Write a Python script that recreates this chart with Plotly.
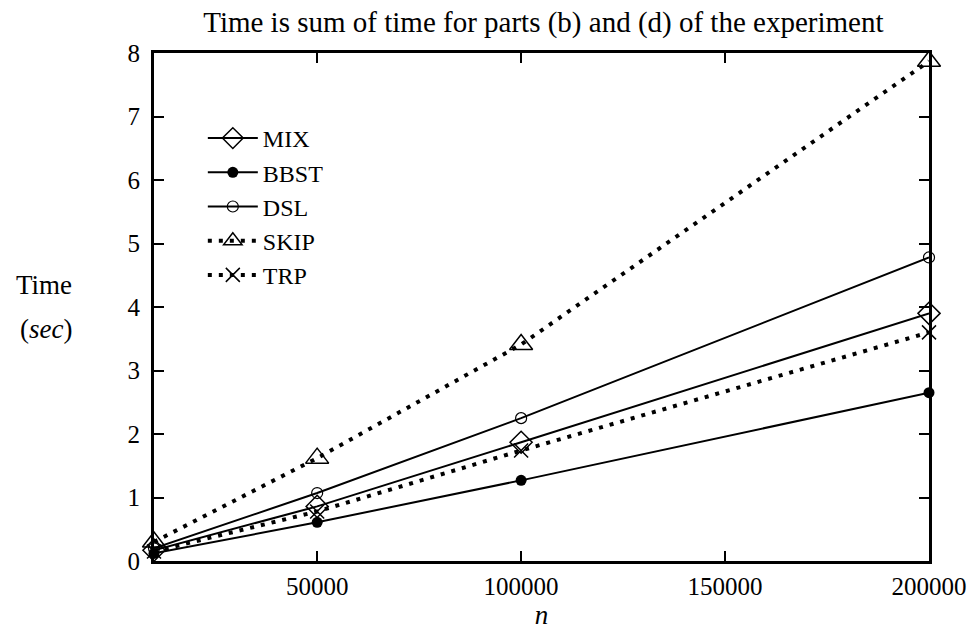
import plotly.graph_objects as go

n_values = [10000, 50000, 100000, 200000]
mix = [0.17, 0.86, 1.87, 3.90]
bbst = [0.12, 0.61, 1.27, 2.65]
dsl = [0.20, 1.07, 2.25, 4.78]
skip = [0.30, 1.62, 3.41, 7.87]
trp = [0.15, 0.78, 1.74, 3.60]

x_ticks = [50000, 100000, 150000, 200000]
y_ticks = [0, 1, 2, 3, 4, 5, 6, 7, 8]

FONT = "Liberation Serif"
series = [
    ("MIX", mix, dict(symbol="diamond-open", size=17, color="black", line=dict(width=1.5)), None),
    ("BBST", bbst, dict(symbol="circle", size=11, color="black"), None),
    ("DSL", dsl, dict(symbol="circle-open", size=11, color="black", line=dict(width=1.2)), None),
    ("SKIP", skip, dict(symbol="triangle-up-open", size=20, color="black", line=dict(width=1.5)), "4px,7px"),
    ("TRP", trp, dict(symbol="x-thin-open", size=14, color="black", line=dict(width=1.5)), "4px,7px"),
]

fig = go.Figure()
for name, vals, marker, dash in series:
    line = dict(color="black", width=2)
    if dash:
        line = dict(color="black", width=4, dash=dash)
    fig.add_trace(go.Scatter(x=n_values, y=vals, name=name, mode="lines+markers",
                             line=line, marker=marker, cliponaxis=False))

axis_common = dict(showline=True, linecolor="black", linewidth=3, mirror="ticks",
                   ticks="inside", ticklen=10, tickwidth=2, tickcolor="black",
                   showgrid=False, zeroline=False,
                   tickfont=dict(family=FONT, size=25, color="black"))

fig.update_layout(
    width=979, height=631,
    margin=dict(l=154, r=46, t=53, b=69),
    paper_bgcolor="white", plot_bgcolor="white",
    font=dict(family=FONT, size=25, color="black"),
    title=dict(text="Time is sum of time for parts (b) and (d) of the experiment",
               x=0.555, xanchor="center", y=1 - 22 / 631, yanchor="middle",
               font=dict(family=FONT, size=29, color="black")),
    xaxis=dict(range=[10000, 200000], tickvals=x_ticks, ticktext=[str(v) for v in x_ticks],
               ticklabelstandoff=1,
               title=dict(text="<i>n</i>", standoff=0, font=dict(family=FONT, size=27)),
               **axis_common),
    yaxis=dict(range=[0, 8], tickvals=y_ticks, ticklabelstandoff=6, **axis_common),
    legend=dict(x=0.063, y=0.876, xanchor="left", yanchor="top", bgcolor="rgba(0,0,0,0)",
                font=dict(family=FONT, size=24, color="black"), tracegroupgap=0,
                itemwidth=50),
    showlegend=True,
)

fig.add_annotation(text="Time", xref="paper", yref="paper",
                   x=(43 - 154) / 779, y=(562 - 285) / 509, xanchor="center", yanchor="middle",
                   showarrow=False, font=dict(family=FONT, size=27, color="black"))
fig.add_annotation(text="(<i>sec</i>)", xref="paper", yref="paper",
                   x=(45 - 154) / 779, y=(562 - 330) / 509, xanchor="center", yanchor="middle",
                   showarrow=False, font=dict(family=FONT, size=27, color="black"))

fig.write_html("out.html", config={"displayModeBar": False},
               post_script="document.body.style.margin='0px';")
